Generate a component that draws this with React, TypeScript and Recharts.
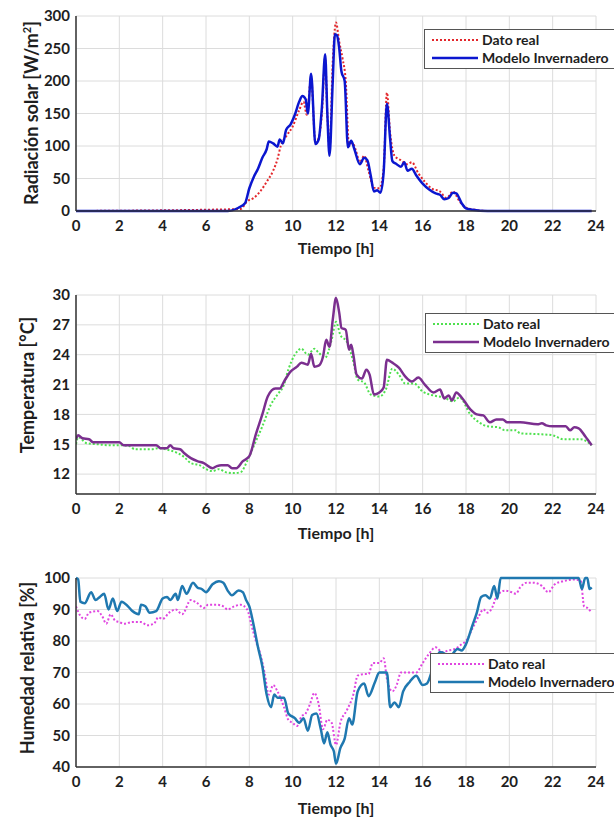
import { CartesianGrid, Line, LineChart, XAxis, YAxis } from 'recharts';

const hourTicks = [0, 2, 4, 6, 8, 10, 12, 14, 16, 18, 20, 22, 24];

// Radiación solar [W/m2]
const radModelT = [0, 7, 7.2, 7.5, 7.8, 8.0, 8.2, 8.4, 8.6, 8.8, 8.9, 9.1, 9.3, 9.4, 9.55, 9.7, 9.9, 10.1, 10.3, 10.45, 10.6, 10.7, 10.85, 11.05, 11.2, 11.35, 11.5, 11.6, 11.7, 11.85, 11.95, 12.05, 12.15, 12.25, 12.4, 12.55, 12.7, 12.85, 13.1, 13.3, 13.45, 13.6, 13.75, 13.9, 14.05, 14.2, 14.35, 14.5, 14.6, 14.8, 15.0, 15.15, 15.3, 15.5, 15.7, 16.0, 16.3, 16.6, 16.8, 17.0, 17.2, 17.4, 17.55, 17.8, 18.0, 18.3, 19, 23.8];
const radModelV = [0, 0, 1, 5, 12, 35, 52, 65, 82, 95, 107, 104, 99, 110, 104, 125, 133, 148, 168, 177, 172, 150, 211, 103, 110, 160, 241, 150, 85, 200, 272, 270, 250, 215, 200, 98, 108, 95, 72, 82, 78, 55, 30, 32, 28, 60, 165, 110, 77, 72, 68, 75, 62, 65, 55, 42, 33, 27, 25, 18, 20, 28, 27, 12, 4, 2, 0, 0];
const radRealT = [0, 7.6, 7.9, 8.2, 8.5, 8.8, 9.1, 9.3, 9.45, 9.7, 10.0, 10.3, 10.5, 10.65, 10.85, 11.05, 11.2, 11.35, 11.5, 11.6, 11.7, 11.85, 12.0, 12.15, 12.3, 12.45, 12.6, 12.75, 12.9, 13.1, 13.3, 13.5, 13.75, 14.0, 14.2, 14.35, 14.5, 14.7, 15.0, 15.3, 15.5, 15.8, 16.1, 16.4, 16.8, 17.1, 17.4, 17.7, 18.0, 18.4, 19, 23.8];
const radRealV = [0, 3, 15, 20, 30, 45, 62, 80, 100, 115, 130, 155, 168, 148, 205, 105, 112, 150, 235, 150, 95, 230, 290, 260, 235, 200, 100, 105, 95, 75, 85, 62, 36, 35, 65, 182, 120, 85, 78, 72, 75, 58, 45, 35, 30, 20, 30, 15, 5, 2, 0, 0];
const radTicks = [0, 50, 100, 150, 200, 250, 300];

// Temperatura [°C]
const tempModelT = [0, 0.1, 0.3, 0.6, 0.8, 1.2, 2.0, 2.2, 3.0, 3.7, 3.9, 4.2, 4.35, 4.5, 4.8, 5.0, 5.3, 5.6, 5.9, 6.3, 6.5, 6.7, 7.0, 7.2, 7.4, 7.7, 8.0, 8.3, 8.6, 8.85, 9.2, 9.4, 9.6, 9.9, 10.2, 10.4, 10.7, 10.85, 11.0, 11.2, 11.4, 11.55, 11.7, 11.85, 12.0, 12.15, 12.25, 12.45, 12.6, 12.7, 12.8, 12.95, 13.2, 13.4, 13.55, 13.75, 14.0, 14.2, 14.35, 14.6, 14.9, 15.2, 15.5, 15.8, 16.1, 16.5, 16.8, 17.0, 17.2, 17.35, 17.55, 17.8, 18.2, 18.5, 18.8, 19.1, 19.4, 19.7, 19.9, 20.5, 21.3, 21.5, 21.7, 22.0, 22.6, 22.8, 23.0, 23.2, 23.5, 23.8];
const tempModelV = [15.5, 15.9, 15.6, 15.5, 15.2, 15.2, 15.2, 14.9, 14.9, 14.9, 14.6, 14.6, 14.9, 14.6, 14.5, 14.1, 13.6, 13.3, 13.1, 12.6, 12.8, 12.9, 12.9, 12.6, 12.6, 13.3, 13.8, 16.0, 18.0, 19.8, 20.6, 20.6, 21.3, 22.3, 22.8, 23.2, 23.0, 24.1, 22.8, 22.9, 23.8, 25.5, 24.8, 27.5, 29.7, 28.2, 26.7, 26.5, 24.5, 25.0, 24.0, 22.0, 21.6, 22.5, 22.0, 20.0, 20.2, 20.7, 23.5, 23.2, 22.7, 21.8, 21.3, 21.7, 21.0, 20.2, 20.5, 19.6, 19.9, 19.4, 20.2, 19.7, 18.5, 18.0, 17.9, 17.2, 17.5, 17.5, 17.2, 17.2, 17.0, 17.1, 16.9, 16.8, 16.8, 16.4, 16.7, 16.6, 15.8, 14.9];
const tempRealT = [0, 0.1, 0.5, 1.0, 1.5, 2.0, 2.5, 2.7, 3.5, 3.8, 4.3, 4.7, 5.0, 5.3, 5.7, 6.0, 6.3, 6.6, 6.9, 7.3, 7.6, 7.9, 8.2, 8.6, 9.0, 9.3, 9.6, 9.8, 10.1, 10.4, 10.7, 11.0, 11.2, 11.5, 11.8, 12.0, 12.2, 12.5, 12.8, 13.0, 13.3, 13.6, 14.0, 14.3, 14.6, 14.9, 15.2, 15.6, 16.0, 16.5, 17.0, 17.4, 17.7, 18.2, 18.6, 19.0, 19.5, 19.8, 20.3, 20.5, 21.5, 22.0, 22.5, 23.3, 23.8];
const tempRealV = [15.0, 15.7, 15.1, 15.0, 14.9, 14.9, 14.8, 14.5, 14.5, 14.6, 14.4, 14.1, 13.7, 13.1, 12.9, 12.5, 12.3, 12.5, 12.2, 12.1, 12.2, 13.3, 14.8, 16.8, 19.0, 20.0, 21.0, 22.5, 24.0, 24.6, 24.0, 24.6, 24.2, 23.7, 25.5, 27.3, 26.0, 25.3, 23.3, 21.5, 21.2, 20.0, 19.8, 20.5, 22.6, 22.0, 21.1, 21.1, 20.3, 19.9, 19.7, 19.3, 19.7, 18.0, 17.2, 16.8, 16.7, 16.4, 16.4, 16.1, 16.0, 15.9, 15.5, 15.5, 14.9];
const tempTicks = [12, 15, 18, 21, 24, 27, 30];

// Humedad relativa [%]
const humModelT = [0, 0.1, 0.2, 0.4, 0.7, 0.9, 1.1, 1.3, 1.5, 1.7, 1.9, 2.1, 2.4, 2.6, 2.9, 3.0, 3.2, 3.4, 3.7, 4.0, 4.2, 4.35, 4.6, 4.7, 4.9, 5.1, 5.4, 5.6, 5.8, 6.0, 6.3, 6.6, 6.8, 7.0, 7.2, 7.5, 7.7, 7.85, 8.0, 8.2, 8.4, 8.6, 8.8, 9.0, 9.15, 9.3, 9.6, 9.8, 10.1, 10.3, 10.5, 10.7, 10.9, 11.1, 11.3, 11.45, 11.6, 11.75, 11.9, 12.0, 12.2, 12.4, 12.6, 12.75, 13.0, 13.3, 13.5, 13.8, 14.0, 14.35, 14.5, 14.7, 14.9, 15.1, 15.4, 15.7, 16.0, 16.2, 16.5, 16.8, 17.0, 17.2, 17.4, 17.6, 17.8, 18.0, 18.3, 18.5, 18.7, 18.9, 19.1, 19.3, 19.45, 19.6, 23.2, 23.35, 23.5, 23.6, 23.7, 23.8];
const humModelV = [100, 99.5, 92.5, 92, 95.5, 93, 94, 95, 90, 93.5, 89.5, 92.5, 91, 89.5, 88.5, 91.5, 91, 89, 89.5, 93.5, 94, 93, 95, 93, 97.5, 95, 98.5, 97, 96.5, 95.5, 98, 99, 98.5, 96, 94.5, 96, 95.5, 93, 91, 85, 78, 72, 63, 59, 63, 62, 62, 57, 55.5, 54, 55.5, 51.5, 56.5, 57, 52, 47.5, 51, 47, 45, 41, 46, 49, 55.5, 53.5, 64, 66.5, 62.5, 67, 70, 70, 59, 60.5, 59, 64, 67, 69, 66, 66.5, 72, 76.5, 76, 74, 76, 77.5, 77, 79, 85, 89, 94, 94.5, 93.5, 97.5, 93.5, 100, 100, 96.5, 100, 100, 96.5, 97];
const humRealT = [0, 0.2, 0.4, 0.6, 1.0, 1.2, 1.4, 1.6, 1.8, 2.0, 2.2, 2.6, 3.0, 3.3, 3.6, 3.8, 4.0, 4.3, 4.6, 4.9, 5.3, 5.6, 5.9, 6.1, 6.5, 6.8, 7.0, 7.3, 7.6, 7.9, 8.1, 8.3, 8.5, 8.7, 8.9, 9.1, 9.3, 9.6, 9.8, 10.0, 10.2, 10.4, 10.6, 10.8, 11.0, 11.2, 11.4, 11.6, 11.8, 12.0, 12.2, 12.5, 12.8, 13.0, 13.3, 13.5, 13.7, 14.0, 14.2, 14.35, 14.6, 14.8, 15.0, 15.3, 15.7, 16.0, 16.3, 16.6, 16.9, 17.2, 17.5, 17.8, 18.0, 18.3, 18.6, 18.8, 19.0, 19.2, 19.4, 19.6, 19.8, 20.1, 20.3, 20.5, 20.8, 21.1, 21.5, 21.8, 22.1, 22.5, 23.0, 23.3, 23.45, 23.6, 23.8];
const humRealV = [91, 88, 87, 89, 89.5, 88, 85.5, 88.5, 86.5, 86, 85.5, 86, 86, 85, 85.5, 87.5, 87, 89, 90, 88.5, 93, 92, 90.5, 91.5, 91.5, 91, 90, 91, 91.5, 90, 85, 80, 76, 70, 63, 66, 64, 59, 55, 54, 53, 56, 57, 60, 63.5, 60, 52, 55, 54, 47, 54, 58, 63, 69, 69.5, 69.5, 73, 73, 74.5, 68, 64, 66, 70, 70, 70, 73, 76, 78, 76.5, 77, 77.5, 79, 80, 84, 88, 90, 89, 90.5, 94, 95.5, 96, 95.5, 95, 97, 98.5, 98.5, 97.5, 95.5, 98, 99, 99.5, 99, 91, 90.5, 89];
const humTicks = [40, 50, 60, 70, 80, 90, 100];

const FONT = 'Lato, "Open Sans", sans-serif';
const INK = '#1e1e1e';

const zip = (t: number[], v: number[]) => t.map((x, i) => ({ t: x, v: v[i] }));

function LegendBox({ left, top, realColor, modelColor }: { left: number; top: number; realColor: string; modelColor: string }) {
  return (
    <div
      style={{
        position: 'absolute',
        left,
        top,
        width: 210,
        height: 38,
        background: '#fff',
        border: '1px solid #555',
        fontFamily: FONT,
        fontWeight: 700,
        fontSize: 14,
        color: INK,
      }}
    >
      <svg width={54} height={38} style={{ position: 'absolute', left: 0, top: 0 }}>
        <line x1={7} x2={53} y1={10} y2={10} stroke={realColor} strokeWidth={2} strokeDasharray="2 2" />
        <line x1={7} x2={53} y1={28} y2={28} stroke={modelColor} strokeWidth={2.5} />
      </svg>
      <div style={{ position: 'absolute', left: 57, top: 0, lineHeight: '20px' }}>Dato real</div>
      <div style={{ position: 'absolute', left: 57, top: 18, lineHeight: '20px', whiteSpace: 'nowrap' }}>
        Modelo Invernadero
      </div>
    </div>
  );
}

function Panel({
  top,
  height,
  plotTop,
  plotBottom,
  domain,
  ticks,
  real,
  model,
  realColor,
  modelColor,
  yTitle,
  titleCenterY,
  xTitleY,
  legendTop,
  legendLeft,
}: {
  top: number;
  height: number;
  plotTop: number;
  plotBottom: number;
  domain: [number, number];
  ticks: number[];
  real: { t: number; v: number }[];
  model: { t: number; v: number }[];
  realColor: string;
  modelColor: string;
  yTitle: React.ReactNode;
  titleCenterY: number;
  xTitleY: number;
  legendTop: number;
  legendLeft: number;
}) {
  const tickStyle = { fill: INK, fontSize: 15, fontWeight: 700, fontFamily: FONT };
  return (
    <>
      <div style={{ position: 'absolute', left: 0, top }}>
        <LineChart
          width={614}
          height={height}
          margin={{ top: plotTop - top, right: 18, left: 0, bottom: height - (plotBottom - top) - 25 }}
        >
          <CartesianGrid stroke="#dcdcdc" strokeWidth={1} />
          <XAxis
            type="number"
            dataKey="t"
            domain={[0, 24]}
            ticks={hourTicks}
            allowDataOverflow
            height={25}
            tick={tickStyle}
            tickLine={false}
            tickMargin={3}
            axisLine={{ stroke: '#333', strokeWidth: 1.5 }}
          />
          <YAxis
            type="number"
            dataKey="v"
            domain={domain}
            ticks={ticks}
            width={76}
            tick={tickStyle}
            tickLine={false}
            tickMargin={0}
            axisLine={{ stroke: '#333', strokeWidth: 1.5 }}
            interval={0}
          />
          <Line
            data={real}
            dataKey="v"
            type="monotoneX"
            stroke={realColor}
            strokeWidth={2}
            strokeDasharray="2 2"
            dot={false}
            isAnimationActive={false}
          />
          <Line
            data={model}
            dataKey="v"
            type="monotoneX"
            stroke={modelColor}
            strokeWidth={2.5}
            dot={false}
            isAnimationActive={false}
          />
        </LineChart>
      </div>
      <div
        style={{
          position: 'absolute',
          left: 27 - 130,
          top: titleCenterY - 11,
          width: 260,
          height: 22,
          lineHeight: '22px',
          textAlign: 'center',
          transform: 'rotate(-90deg)',
          fontFamily: FONT,
          fontWeight: 700,
          fontSize: 18,
          color: INK,
          whiteSpace: 'nowrap',
        }}
      >
        {yTitle}
      </div>
      <div
        style={{
          position: 'absolute',
          left: 236,
          top: xTitleY - 11,
          width: 200,
          lineHeight: '22px',
          textAlign: 'center',
          fontFamily: FONT,
          fontWeight: 700,
          fontSize: 16,
          color: INK,
        }}
      >
        Tiempo [h]
      </div>
      <LegendBox left={legendLeft} top={legendTop} realColor={realColor} modelColor={modelColor} />
    </>
  );
}

export default function App() {
  return (
    <div
      style={{
        position: 'absolute',
        left: 0,
        top: 0,
        width: 614,
        height: 827,
        overflow: 'hidden',
        background: '#fff',
      }}
    >
      <Panel
        top={0}
        height={240}
        plotTop={16}
        plotBottom={211}
        domain={[0, 300]}
        ticks={radTicks}
        real={zip(radRealT, radRealV)}
        model={zip(radModelT, radModelV)}
        realColor="#e3262b"
        modelColor="#0b16cf"
        yTitle={
          <span>
            Radiación solar [W/m<sup style={{ fontSize: 11 }}>2</sup>]
          </span>
        }
        titleCenterY={113}
        xTitleY={248}
        legendLeft={424}
        legendTop={29}
      />
      <Panel
        top={270}
        height={250}
        plotTop={295}
        plotBottom={494}
        domain={[10, 30]}
        ticks={tempTicks}
        real={zip(tempRealT, tempRealV)}
        model={zip(tempModelT, tempModelV)}
        realColor="#4fe04f"
        modelColor="#7b2f8f"
        yTitle="Temperatura [°C]"
        titleCenterY={385}
        xTitleY={533}
        legendLeft={425}
        legendTop={313}
      />
      <Panel
        top={555}
        height={240}
        plotTop={578}
        plotBottom={767}
        domain={[40, 100]}
        ticks={humTicks}
        real={zip(humRealT, humRealV)}
        model={zip(humModelT, humModelV)}
        realColor="#e046e0"
        modelColor="#1f78b0"
        yTitle="Humedad relativa [%]"
        titleCenterY={668}
        xTitleY={808}
        legendLeft={430}
        legendTop={653}
      />
    </div>
  );
}
